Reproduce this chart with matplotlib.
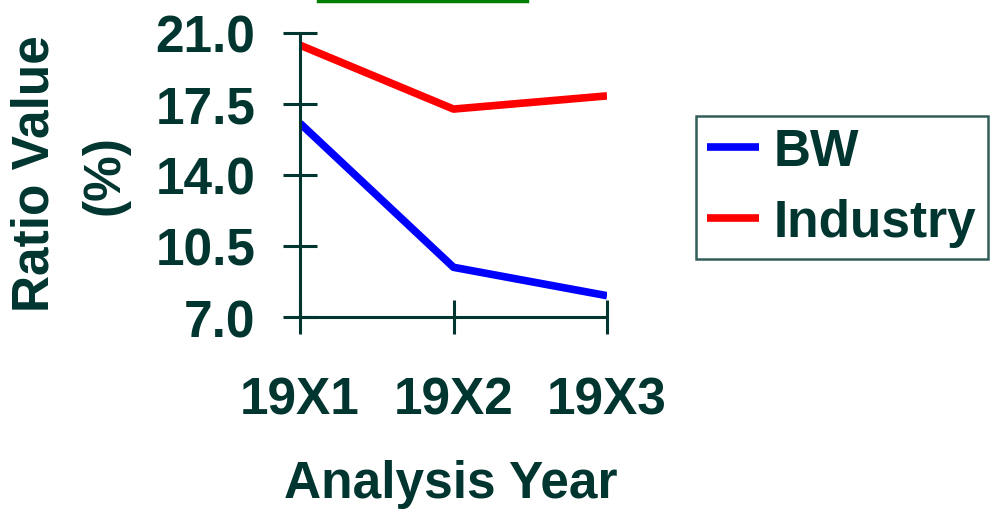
import matplotlib
matplotlib.use("Agg")
import matplotlib.pyplot as plt
from matplotlib.lines import Line2D

years = ["19X1", "19X2", "19X3"]
bw = [16.55, 9.45, 8.05]
industry = [20.4, 17.25, 17.9]
yticks = [7.0, 10.5, 14.0, 17.5, 21.0]

dark = "#003530"
plt.rcParams["font.family"] = ["Liberation Sans", "DejaVu Sans"]
plt.rcParams["font.weight"] = "bold"
fs = 37

fig = plt.figure(figsize=(10.03, 5.10), dpi=100)
ax = fig.add_axes([300 / 1003, 1 - 318 / 510, 307 / 1003, 284 / 510])

x = range(len(years))
ax.plot(x, bw, color="#0000ff", lw=5.5, label="BW", solid_capstyle="butt")
ax.plot(x, industry, color="#ff0000", lw=5.5, label="Industry", solid_capstyle="butt")

ax.set_xlim(0, 2)
ax.set_ylim(7, 21)
ax.set_xticks(list(x))
ax.set_xticklabels(years)
ax.set_yticks(yticks)
ax.set_yticklabels([f"{v:.1f}" for v in yticks])
for s in ["top", "right"]:
    ax.spines[s].set_visible(False)
for s in ["left", "bottom"]:
    ax.spines[s].set_color(dark)
    ax.spines[s].set_linewidth(2.2)
ax.tick_params(axis="both", direction="inout", length=24, width=2.2, color=dark,
               labelsize=fs, labelcolor=dark)
ax.tick_params(axis="x", pad=30)
ax.tick_params(axis="y", pad=20)

# y label as two rotated lines, x label below the ticks
fig.text(35 / 1003, 1 - 174 / 510, "Ratio Value", rotation=90, fontsize=fs,
         color=dark, fontweight="bold", ha="center", va="center")
fig.text(105 / 1003, 1 - 175 / 510, "(%)", rotation=90, fontsize=fs,
         color=dark, fontweight="bold", ha="center", va="center")
fig.text(451 / 1003, 1 - 498 / 510, "Analysis Year", fontsize=fs,
         color=dark, fontweight="bold", ha="center", va="baseline")

leg = fig.legend(loc="upper left", bbox_to_anchor=(696 / 1003, 1 - 117 / 510),
                 borderaxespad=0, fontsize=fs, frameon=True, fancybox=False,
                 handlelength=1.0, handletextpad=0.3, borderpad=0.22,
                 labelspacing=0.43)
leg.get_frame().set_edgecolor(dark)
leg.get_frame().set_linewidth(1.8)
for t in leg.get_texts():
    t.set_color(dark)

# bottom edge of the title box, cut off at the top of the image
fig.add_artist(Line2D([318 / 1003, 527 / 1003], [1 - 1.5 / 510, 1 - 1.5 / 510],
                      color="#008000", lw=2.5, transform=fig.transFigure))

fig.savefig("out.png", dpi=100)
